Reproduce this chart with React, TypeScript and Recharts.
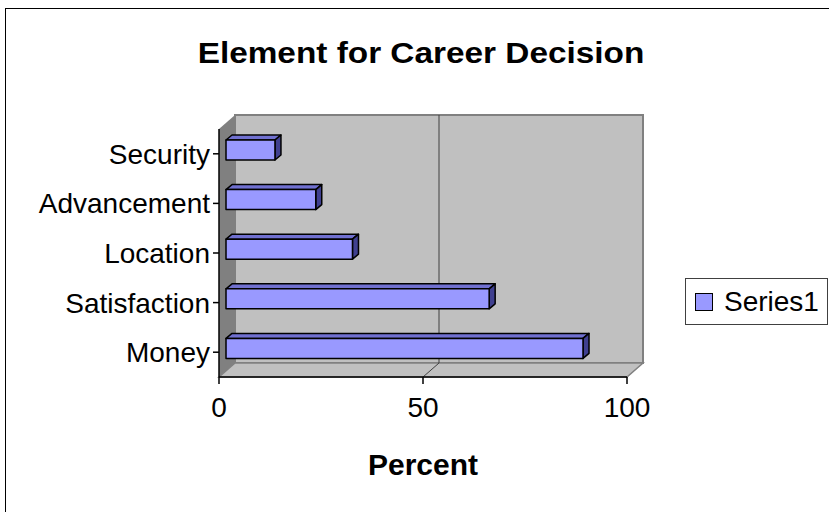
import React from 'react';
import { BarChart, Bar, XAxis, YAxis, CartesianGrid, Legend } from 'recharts';

// chart values
const categories = ['Security', 'Advancement', 'Location', 'Satisfaction', 'Money'];
const percent = [12, 22, 31, 64.5, 87.5];
const xTicks = [0, 50, 100];
const gridValues = [50];

const data = categories.map((name, i) => ({ name, Series1: percent[i] }));

const FONT = '"Liberation Sans", Arial, sans-serif';
const W = 829;
const H = 512;
const MARGIN = { top: 129, right: 202, bottom: 20, left: 19 };
const Y_AXIS_W = 200;
const X_AXIS_H = 115;

// front plane of the 3D box
const PLOT_X = MARGIN.left + Y_AXIS_W;
const PLOT_Y = MARGIN.top;
const PLOT_W = W - PLOT_X - MARGIN.right;
const PLOT_H = H - PLOT_Y - MARGIN.bottom - X_AXIS_H;

// depth of the 3D box (front plane -> back wall)
const DX = 16;
const DY = -14;

const BAR_FRONT = '#9999ff';
const BAR_TOP = '#7070d0';
const BAR_SIDE = '#404090';

const layer: React.CSSProperties = { position: 'absolute', left: 0, top: 0 };

// walls are drawn under everything
const Walls: React.FC = () => {
  const x = PLOT_X;
  const y = PLOT_Y;
  const b = y + PLOT_H;
  return (
    <svg width={W} height={H} style={layer}>
      <rect x={x + DX} y={y + DY} width={PLOT_W} height={PLOT_H} fill="#c0c0c0" stroke="#808080" strokeWidth={2} />
      <polygon
        points={`${x},${y} ${x + DX},${y + DY} ${x + DX},${b + DY} ${x},${b}`}
        fill="#808080"
      />
      <polygon
        points={`${x},${b} ${x + DX},${b + DY} ${x + PLOT_W + DX},${b + DY} ${x + PLOT_W},${b}`}
        fill="#c0c0c0"
        stroke="#808080"
        strokeWidth={1.5}
      />
    </svg>
  );
};

const Bar3D = (props: any) => {
  const { x, y, width, height } = props;
  if (width == null || width <= 0) return null;
  const fx = x + 7;
  const fy = y - 4;
  const d = 6;
  const e = 5;
  return (
    <g stroke="#000" strokeWidth={1.5} strokeLinejoin="round">
      <polygon
        points={`${fx},${fy} ${fx + d},${fy - e} ${fx + width + d},${fy - e} ${fx + width},${fy}`}
        fill={BAR_TOP}
      />
      <polygon
        points={`${fx + width},${fy} ${fx + width + d},${fy - e} ${fx + width + d},${fy + height - e} ${fx + width},${fy + height}`}
        fill={BAR_SIDE}
      />
      <rect x={fx} y={fy} width={width} height={height} fill={BAR_FRONT} />
    </g>
  );
};

const Empty = () => <g />;

// grid line sits on the back wall and runs down across the floor
const BackGridLine = (p: any) => (
  <path
    d={`M${p.x1 + DX},${p.y1 + DY} L${p.x2 + DX},${p.y2 + DY} L${p.x2},${p.y2}`}
    stroke="#404040"
    strokeWidth={1}
    fill="none"
  />
);

const LegendBox = () => (
  <div
    style={{
      boxSizing: 'border-box',
      width: 143,
      height: 47,
      border: '1px solid #404040',
      background: '#fff',
      display: 'flex',
      alignItems: 'center',
      fontFamily: FONT,
      fontSize: 28,
      color: '#000',
    }}
  >
    <span
      style={{
        boxSizing: 'border-box',
        width: 18,
        height: 18,
        marginLeft: 9,
        background: BAR_FRONT,
        border: '1px solid #000',
      }}
    />
    <span style={{ marginLeft: 11 }}>Series1</span>
  </div>
);

// same axes as the main chart, only used to place the back-wall grid line
const GridLayer: React.FC = () => (
  <div style={layer}>
    <BarChart width={W} height={H} data={data} layout="vertical" margin={MARGIN} barSize={20}>
      <CartesianGrid horizontal={false} verticalValues={gridValues} vertical={BackGridLine} />
      <XAxis
        type="number"
        domain={[0, 100]}
        ticks={xTicks}
        height={X_AXIS_H}
        tick={Empty}
        axisLine={false}
        tickLine={false}
      />
      <YAxis type="category" dataKey="name" width={Y_AXIS_W} tick={Empty} axisLine={false} tickLine={false} />
      <Bar dataKey="Series1" shape={Empty} isAnimationActive={false} />
    </BarChart>
  </div>
);

export default function App() {
  return (
    <div
      style={{
        position: 'absolute',
        left: 0,
        top: 0,
        width: W,
        height: H,
        overflow: 'hidden',
        background: '#fff',
        fontFamily: FONT,
      }}
    >
      {/* outer chart border (runs off the picture right and bottom) */}
      <div
        style={{
          position: 'absolute',
          left: 5,
          top: 8,
          width: 900,
          height: 600,
          border: '1.5px solid #000',
        }}
      />
      <div
        style={{
          position: 'absolute',
          left: 121,
          top: 37,
          width: 600,
          textAlign: 'center',
          fontSize: 29,
          lineHeight: '32px',
          fontWeight: 'bold',
          color: '#000',
          transform: 'scaleX(1.15)',
        }}
      >
        Element for Career Decision
      </div>
      <Walls />
      <GridLayer />
      <div style={layer}>
        <BarChart
          width={W}
          height={H}
          data={data}
          layout="vertical"
          margin={MARGIN}
          barSize={20}
        >
          <XAxis
            type="number"
            domain={[0, 100]}
            ticks={xTicks}
            height={X_AXIS_H}
            tickSize={7}
            tickMargin={13}
            axisLine={{ stroke: '#000', strokeWidth: 1.5 }}
            tickLine={{ stroke: '#000', strokeWidth: 1.5 }}
            tick={{ fill: '#000', fontSize: 28, fontFamily: FONT }}
            label={{
              value: 'Percent',
              position: 'insideBottom',
              offset: 17,
              fill: '#000',
              fontSize: 30,
              fontWeight: 'bold',
              fontFamily: FONT,
            }}
          />
          <YAxis
            type="category"
            dataKey="name"
            width={Y_AXIS_W}
            tickSize={6}
            tickMargin={3}
            axisLine={{ stroke: '#000', strokeWidth: 1.5 }}
            tickLine={{ stroke: '#000', strokeWidth: 1.5 }}
            tick={{ fill: '#000', fontSize: 28, fontFamily: FONT }}
          />
          <Bar dataKey="Series1" shape={Bar3D} isAnimationActive={false} />
          <Legend
            layout="horizontal"
            align="center"
            verticalAlign="middle"
            wrapperStyle={{ position: 'absolute', left: 685, top: 278, width: 143, height: 47 }}
            content={LegendBox}
          />
        </BarChart>
      </div>
    </div>
  );
}
